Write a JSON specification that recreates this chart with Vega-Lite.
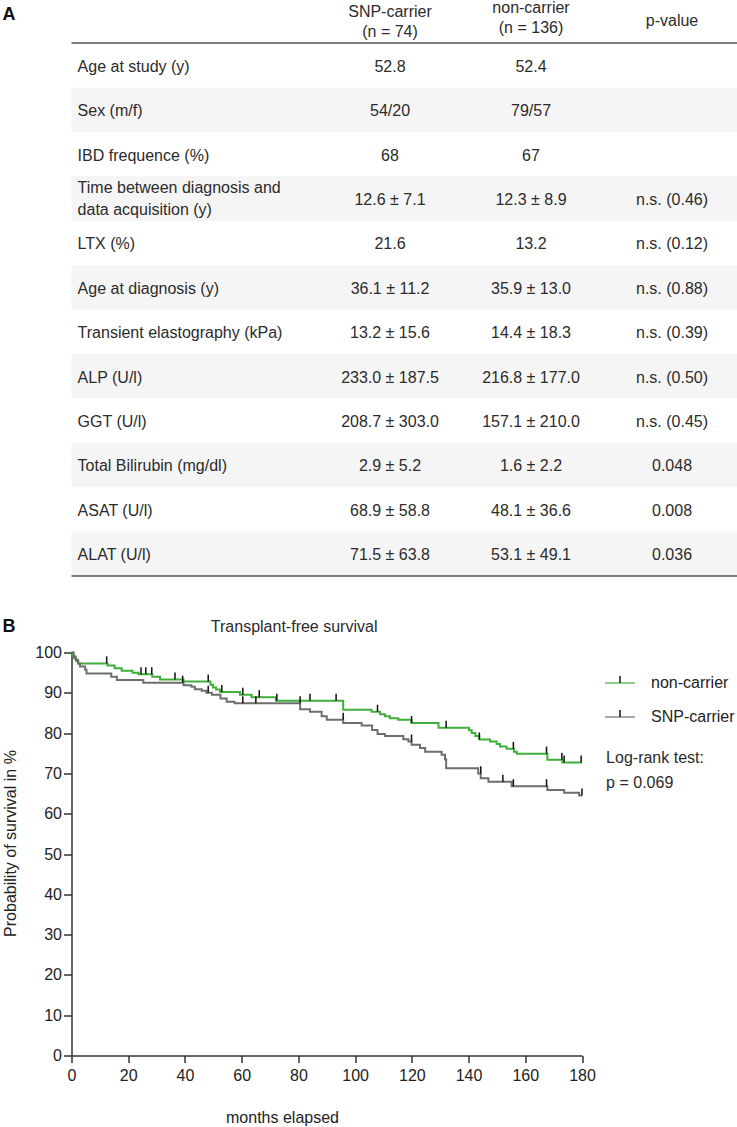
{
  "$schema": "https://vega.github.io/schema/vega-lite/v6.json",
  "width": 665.5,
  "height": 403,
  "autosize": {"type": "none"},
  "padding": {"left": 71.5, "top": 652.5, "right": 0, "bottom": 71.5},
  "background": "white",
  "config": {
    "view": {"stroke": null},
    "font": "Liberation Sans",
    "text": {"font": "Liberation Sans", "fontSize": 16, "color": "#2b2b2b"}
  },
  "datasets": {
    "table": [
      {"row": 1, "label": "Age at study (y)", "snp": "52.8", "non": "52.4", "p": ""},
      {"row": 2, "label": "Sex (m/f)", "snp": "54/20", "non": "79/57", "p": ""},
      {"row": 3, "label": "IBD frequence (%)", "snp": "68", "non": "67", "p": ""},
      {"row": 4, "label": ["Time between diagnosis and", "data acquisition (y)"], "snp": "12.6 ± 7.1", "non": "12.3 ± 8.9", "p": "n.s. (0.46)"},
      {"row": 5, "label": "LTX (%)", "snp": "21.6", "non": "13.2", "p": "n.s. (0.12)"},
      {"row": 6, "label": "Age at diagnosis (y)", "snp": "36.1 ± 11.2", "non": "35.9 ± 13.0", "p": "n.s. (0.88)"},
      {"row": 7, "label": "Transient elastography (kPa)", "snp": "13.2 ± 15.6", "non": "14.4 ± 18.3", "p": "n.s. (0.39)"},
      {"row": 8, "label": "ALP (U/l)", "snp": "233.0 ± 187.5", "non": "216.8 ± 177.0", "p": "n.s. (0.50)"},
      {"row": 9, "label": "GGT (U/l)", "snp": "208.7 ± 303.0", "non": "157.1 ± 210.0", "p": "n.s. (0.45)"},
      {"row": 10, "label": "Total Bilirubin (mg/dl)", "snp": "2.9 ± 5.2", "non": "1.6 ± 2.2", "p": "0.048"},
      {"row": 11, "label": "ASAT (U/l)", "snp": "68.9 ± 58.8", "non": "48.1 ± 36.6", "p": "0.008"},
      {"row": 12, "label": "ALAT (U/l)", "snp": "71.5  ± 63.8", "non": "53.1 ± 49.1", "p": "0.036"}
    ],
    "header": [
      {"col": "snp", "text": ["SNP-carrier", "(n = 74)"]},
      {"col": "non", "text": ["non-carrier", "(n = 136)"]},
      {"col": "p", "text": "p-value"}
    ],
    "km": [
      {"group": "non-carrier", "month": 0, "surv": 100},
      {"group": "non-carrier", "month": 0.4, "surv": 99.3},
      {"group": "non-carrier", "month": 0.9, "surv": 98.6},
      {"group": "non-carrier", "month": 1.6, "surv": 97.9},
      {"group": "non-carrier", "month": 2.4, "surv": 97.3},
      {"group": "non-carrier", "month": 12.7, "surv": 96.8},
      {"group": "non-carrier", "month": 15.2, "surv": 96.1},
      {"group": "non-carrier", "month": 17.7, "surv": 95.5},
      {"group": "non-carrier", "month": 21.5, "surv": 95.0},
      {"group": "non-carrier", "month": 23.6, "surv": 94.6},
      {"group": "non-carrier", "month": 28.5, "surv": 94.0},
      {"group": "non-carrier", "month": 31.2, "surv": 93.3},
      {"group": "non-carrier", "month": 39.5, "surv": 92.8},
      {"group": "non-carrier", "month": 49.0, "surv": 92.0},
      {"group": "non-carrier", "month": 49.9, "surv": 91.3},
      {"group": "non-carrier", "month": 51.0, "surv": 90.8},
      {"group": "non-carrier", "month": 52.4, "surv": 90.2},
      {"group": "non-carrier", "month": 59.4, "surv": 89.5},
      {"group": "non-carrier", "month": 63.5, "surv": 88.9},
      {"group": "non-carrier", "month": 72.1, "surv": 88.0},
      {"group": "non-carrier", "month": 95.8, "surv": 85.8},
      {"group": "non-carrier", "month": 105.8, "surv": 85.3},
      {"group": "non-carrier", "month": 108.8, "surv": 84.7},
      {"group": "non-carrier", "month": 110.5, "surv": 84.2},
      {"group": "non-carrier", "month": 112.3, "surv": 83.7},
      {"group": "non-carrier", "month": 115.2, "surv": 83.3},
      {"group": "non-carrier", "month": 119.9, "surv": 82.5},
      {"group": "non-carrier", "month": 129.4, "surv": 81.3},
      {"group": "non-carrier", "month": 140.2, "surv": 80.7},
      {"group": "non-carrier", "month": 141.1, "surv": 80.0},
      {"group": "non-carrier", "month": 142.4, "surv": 79.3},
      {"group": "non-carrier", "month": 143.8, "surv": 78.4},
      {"group": "non-carrier", "month": 147.6, "surv": 77.9},
      {"group": "non-carrier", "month": 149.9, "surv": 77.3},
      {"group": "non-carrier", "month": 151.1, "surv": 76.7},
      {"group": "non-carrier", "month": 153.4, "surv": 76.1},
      {"group": "non-carrier", "month": 156.0, "surv": 75.4},
      {"group": "non-carrier", "month": 157.0, "surv": 74.9},
      {"group": "non-carrier", "month": 167.8, "surv": 73.4},
      {"group": "non-carrier", "month": 173.1, "surv": 72.7},
      {"group": "non-carrier", "month": 180, "surv": 72.7},
      {"group": "SNP-carrier", "month": 0, "surv": 100},
      {"group": "SNP-carrier", "month": 0.8, "surv": 99.0},
      {"group": "SNP-carrier", "month": 1.5, "surv": 98.2},
      {"group": "SNP-carrier", "month": 2.3, "surv": 97.3},
      {"group": "SNP-carrier", "month": 3.0, "surv": 96.5},
      {"group": "SNP-carrier", "month": 4.8, "surv": 95.7},
      {"group": "SNP-carrier", "month": 5.3, "surv": 94.8},
      {"group": "SNP-carrier", "month": 14.0, "surv": 94.0},
      {"group": "SNP-carrier", "month": 16.0, "surv": 93.2},
      {"group": "SNP-carrier", "month": 25.3, "surv": 92.5},
      {"group": "SNP-carrier", "month": 39.5, "surv": 91.9},
      {"group": "SNP-carrier", "month": 42.3, "surv": 91.5},
      {"group": "SNP-carrier", "month": 43.5, "surv": 90.9},
      {"group": "SNP-carrier", "month": 45.9, "surv": 90.5},
      {"group": "SNP-carrier", "month": 47.6, "surv": 90.0},
      {"group": "SNP-carrier", "month": 49.5, "surv": 89.5},
      {"group": "SNP-carrier", "month": 52.5, "surv": 88.6},
      {"group": "SNP-carrier", "month": 54.7, "surv": 87.8},
      {"group": "SNP-carrier", "month": 57.5, "surv": 87.4},
      {"group": "SNP-carrier", "month": 80.6, "surv": 85.9},
      {"group": "SNP-carrier", "month": 84.1, "surv": 85.3},
      {"group": "SNP-carrier", "month": 88.2, "surv": 84.2},
      {"group": "SNP-carrier", "month": 90.0, "surv": 83.3},
      {"group": "SNP-carrier", "month": 95.8, "surv": 82.5},
      {"group": "SNP-carrier", "month": 102.3, "surv": 81.9},
      {"group": "SNP-carrier", "month": 106.0, "surv": 80.8},
      {"group": "SNP-carrier", "month": 107.9, "surv": 79.8},
      {"group": "SNP-carrier", "month": 110.5, "surv": 79.3},
      {"group": "SNP-carrier", "month": 117.0, "surv": 78.5},
      {"group": "SNP-carrier", "month": 118.8, "surv": 77.9},
      {"group": "SNP-carrier", "month": 119.9, "surv": 77.1},
      {"group": "SNP-carrier", "month": 122.9, "surv": 76.3},
      {"group": "SNP-carrier", "month": 124.7, "surv": 75.4},
      {"group": "SNP-carrier", "month": 130.5, "surv": 74.6},
      {"group": "SNP-carrier", "month": 131.7, "surv": 73.5},
      {"group": "SNP-carrier", "month": 132.1, "surv": 71.3},
      {"group": "SNP-carrier", "month": 143.4, "surv": 70.0},
      {"group": "SNP-carrier", "month": 144.3, "surv": 68.8},
      {"group": "SNP-carrier", "month": 147.0, "surv": 67.9},
      {"group": "SNP-carrier", "month": 155.2, "surv": 66.8},
      {"group": "SNP-carrier", "month": 167.8, "surv": 65.9},
      {"group": "SNP-carrier", "month": 173.7, "surv": 65.2},
      {"group": "SNP-carrier", "month": 179.0, "surv": 64.5},
      {"group": "SNP-carrier", "month": 180, "surv": 64.5}
    ],
    "censor": [
      {"group": "non-carrier", "month": 12.4, "surv": 97.3},
      {"group": "non-carrier", "month": 24.5, "surv": 94.6},
      {"group": "non-carrier", "month": 26.2, "surv": 94.6},
      {"group": "non-carrier", "month": 28.3, "surv": 94.6},
      {"group": "non-carrier", "month": 36.5, "surv": 93.3},
      {"group": "non-carrier", "month": 48.2, "surv": 92.8},
      {"group": "non-carrier", "month": 53.0, "surv": 90.2},
      {"group": "non-carrier", "month": 60.4, "surv": 89.5},
      {"group": "non-carrier", "month": 66.2, "surv": 88.9},
      {"group": "non-carrier", "month": 72.4, "surv": 88.0},
      {"group": "non-carrier", "month": 84.1, "surv": 88.0},
      {"group": "non-carrier", "month": 93.3, "surv": 88.0},
      {"group": "non-carrier", "month": 107.9, "surv": 85.3},
      {"group": "non-carrier", "month": 119.9, "surv": 82.5},
      {"group": "non-carrier", "month": 132.1, "surv": 81.3},
      {"group": "non-carrier", "month": 143.8, "surv": 78.4},
      {"group": "non-carrier", "month": 155.8, "surv": 76.1},
      {"group": "non-carrier", "month": 167.5, "surv": 74.9},
      {"group": "non-carrier", "month": 172.9, "surv": 73.4},
      {"group": "non-carrier", "month": 173.7, "surv": 72.7},
      {"group": "non-carrier", "month": 179.7, "surv": 72.7},
      {"group": "SNP-carrier", "month": 39.2, "surv": 92.5},
      {"group": "SNP-carrier", "month": 48.2, "surv": 90.0},
      {"group": "SNP-carrier", "month": 60.4, "surv": 87.4},
      {"group": "SNP-carrier", "month": 65.0, "surv": 87.4},
      {"group": "SNP-carrier", "month": 80.6, "surv": 87.4},
      {"group": "SNP-carrier", "month": 95.8, "surv": 83.3},
      {"group": "SNP-carrier", "month": 119.9, "surv": 77.9},
      {"group": "SNP-carrier", "month": 144.3, "surv": 70.0},
      {"group": "SNP-carrier", "month": 152.1, "surv": 67.9},
      {"group": "SNP-carrier", "month": 155.8, "surv": 66.8},
      {"group": "SNP-carrier", "month": 167.5, "surv": 66.8},
      {"group": "SNP-carrier", "month": 180, "surv": 64.5}
    ]
  },
  "layer": [
    {
      "layer": [
        {
          "data": {"name": "table"},
          "transform": [{"filter": "datum.row % 2 == 0"}],
          "mark": {"type": "rect", "color": "#f5f5f5"},
          "encoding": {
            "y": {"field": "row", "type": "ordinal", "axis": null,
              "scale": {"type": "band", "domain": [0,1,2,3,4,5,6,7,8,9,10,11,12], "range": [-653.9, -76.5], "paddingInner": 0, "paddingOuter": 0}}
          }
        },
        {
          "data": {"values": [{}]},
          "mark": {"type": "rule", "color": "#555", "strokeWidth": 1.5},
          "encoding": {
            "y": {"datum": 1, "type": "ordinal", "bandPosition": 0, "axis": null}
          }
        },
        {
          "data": {"values": [{}]},
          "mark": {"type": "rule", "color": "#555", "strokeWidth": 1.5},
          "encoding": {
            "y": {"datum": 12, "type": "ordinal", "bandPosition": 1, "axis": null}
          }
        },
        {
          "data": {"name": "table"},
          "transform": [{"filter": "!isArray(datum.label)"}],
          "mark": {"type": "text", "align": "left", "baseline": "middle", "dx": -171.4, "dy": 1.5},
          "encoding": {
            "x": {"datum": "label", "type": "nominal", "axis": null,
              "scale": {"type": "point", "domain": ["label", "snp", "non", "p"], "range": [177.5, 600.5], "padding": 0}},
            "y": {"field": "row", "type": "ordinal", "axis": null},
            "text": {"field": "label", "type": "nominal"}
          }
        },
        {
          "data": {"name": "table"},
          "transform": [{"filter": "isArray(datum.label)"}],
          "mark": {"type": "text", "align": "left", "baseline": "middle", "dx": -171.4, "dy": -10, "lineHeight": 22},
          "encoding": {
            "x": {"datum": "label", "type": "nominal", "axis": null},
            "y": {"field": "row", "type": "ordinal", "axis": null},
            "text": {"field": "label", "type": "nominal"}
          }
        },
        {
          "data": {"name": "table"},
          "transform": [{"fold": ["snp", "non", "p"], "as": ["col", "val"]}],
          "mark": {"type": "text", "align": "center", "baseline": "middle", "dy": 1.5},
          "encoding": {
            "x": {"field": "col", "type": "nominal", "axis": null},
            "y": {"field": "row", "type": "ordinal", "axis": null},
            "text": {"field": "val", "type": "nominal"}
          }
        },
        {
          "data": {"name": "header"},
          "transform": [{"filter": "datum.col == 'snp'"}],
          "mark": {"type": "text", "align": "center", "baseline": "middle", "lineHeight": 20, "dy": -8.5},
          "encoding": {
            "x": {"field": "col", "type": "nominal", "axis": null},
            "y": {"datum": 0, "type": "ordinal", "axis": null},
            "text": {"field": "text", "type": "nominal"}
          }
        },
        {
          "data": {"name": "header"},
          "transform": [{"filter": "datum.col == 'non'"}],
          "mark": {"type": "text", "align": "center", "baseline": "middle", "lineHeight": 20, "dy": -13},
          "encoding": {
            "x": {"field": "col", "type": "nominal", "axis": null},
            "y": {"datum": 0, "type": "ordinal", "axis": null},
            "text": {"field": "text", "type": "nominal"}
          }
        },
        {
          "data": {"name": "header"},
          "transform": [{"filter": "datum.col == 'p'"}],
          "mark": {"type": "text", "align": "center", "baseline": "middle", "dy": 0},
          "encoding": {
            "x": {"field": "col", "type": "nominal", "axis": null},
            "y": {"datum": 0, "type": "ordinal", "axis": null},
            "text": {"field": "text", "type": "nominal"}
          }
        },
        {
          "data": {"values": [{}]},
          "mark": {"type": "text", "text": "A", "align": "left", "baseline": "middle", "dx": -246.5, "dy": -5.8, "fontSize": 18, "fontWeight": "bold", "color": "#111"},
          "encoding": {
            "x": {"datum": "label", "type": "nominal", "axis": null},
            "y": {"datum": 0, "type": "ordinal", "axis": null}
          }
        }
      ]
    },
    {
      "layer": [
        {
          "data": {"name": "km"},
          "mark": {"type": "line", "interpolate": "step-after", "strokeWidth": 2},
          "encoding": {
            "x": {"field": "month", "type": "quantitative",
              "scale": {"domain": [0, 180], "range": [0, 510.5], "nice": false, "zero": false},
              "axis": {"orient": "bottom", "values": [0,20,40,60,80,100,120,140,160,180], "grid": false,
                "tickSize": 7, "tickWidth": 1.5, "tickColor": "#333", "domainColor": "#333", "domainWidth": 1.5,
                "labelPadding": 5, "labelFontSize": 16, "labelColor": "#222", "labelFlush": false, "labelOverlap": false, "labelFont": "Liberation Sans",
                "title": "months elapsed", "titleFontSize": 16, "titleFontWeight": "normal", "titleColor": "#222", "titleFont": "Liberation Sans",
                "titleX": 210.5, "titleY": 62, "titleAlign": "center", "titleBaseline": "middle"}},
            "y": {"field": "surv", "type": "quantitative",
              "scale": {"domain": [0, 100], "nice": false, "zero": false},
              "axis": {"orient": "left", "values": [0,10,20,30,40,50,60,70,80,90,100], "grid": false,
                "tickSize": 8, "tickWidth": 1.5, "tickColor": "#333", "domainColor": "#333", "domainWidth": 1.5,
                "labelPadding": 2, "labelFontSize": 16, "labelColor": "#222", "labelOverlap": false, "labelFont": "Liberation Sans",
                "title": "Probability of survival in %", "titleFontSize": 16, "titleFontWeight": "normal", "titleColor": "#222", "titleFont": "Liberation Sans",
                "titleX": -61.5, "titleY": 190.5, "titleAngle": 270, "titleAlign": "center", "titleBaseline": "middle"}},
            "color": {"field": "group", "type": "nominal",
              "scale": {"domain": ["non-carrier", "SNP-carrier"], "range": ["#3fae3a", "#6e6e6e"]},
              "legend": {"orient": "none", "legendX": 532.5, "legendY": 14.5, "title": null, "padding": 0,
                "symbolType": "stroke", "symbolSize": 900, "symbolStrokeWidth": 2, "symbolOpacity": 0.6,
                "labelFontSize": 16, "labelFont": "Liberation Sans", "labelColor": "#222", "labelOffset": 15, "rowPadding": 10}}
          }
        },
        {
          "data": {"name": "censor"},
          "mark": {"type": "point", "filled": false, "strokeWidth": 1.5, "color": "#111", "opacity": 1, "size": 900},
          "encoding": {
            "x": {"field": "month", "type": "quantitative"},
            "y": {"field": "surv", "type": "quantitative"},
            "shape": {"field": "group", "type": "nominal",
              "scale": {"domain": ["SNP-carrier", "non-carrier"], "range": ["M0,0L0,-0.47", "M0,0L0,-0.47"]},
              "legend": {"orient": "none", "legendX": 532.5, "legendY": 14.5, "title": null, "padding": 0,
                "symbolSize": 900, "symbolStrokeColor": "#111", "symbolStrokeWidth": 1.5, "symbolFillColor": "transparent", "symbolOpacity": 1,
                "labelFontSize": 16, "labelFont": "Liberation Sans", "labelExpr": "' '", "labelOffset": 15, "rowPadding": 10}}
          }
        },
        {
          "data": {"values": [{}]},
          "mark": {"type": "text", "text": ["Log-rank test:", "p = 0.069"], "align": "left", "baseline": "middle", "lineHeight": 25},
          "encoding": {
            "x": {"datum": 188.5, "type": "quantitative"},
            "y": {"datum": 73.8, "type": "quantitative"}
          }
        },
        {
          "data": {"values": [{}]},
          "mark": {"type": "text", "text": "Transplant-free survival", "align": "center", "baseline": "middle"},
          "encoding": {
            "x": {"datum": 78.5, "type": "quantitative"},
            "y": {"datum": 106.3, "type": "quantitative"}
          }
        },
        {
          "data": {"values": [{}]},
          "mark": {"type": "text", "text": "B", "align": "left", "baseline": "middle", "fontSize": 18, "fontWeight": "bold", "color": "#111"},
          "encoding": {
            "x": {"datum": -24.3, "type": "quantitative"},
            "y": {"datum": 106.3, "type": "quantitative"}
          }
        }
      ]
    }
  ],
  "resolve": {"scale": {"x": "independent", "y": "independent"}}
}
